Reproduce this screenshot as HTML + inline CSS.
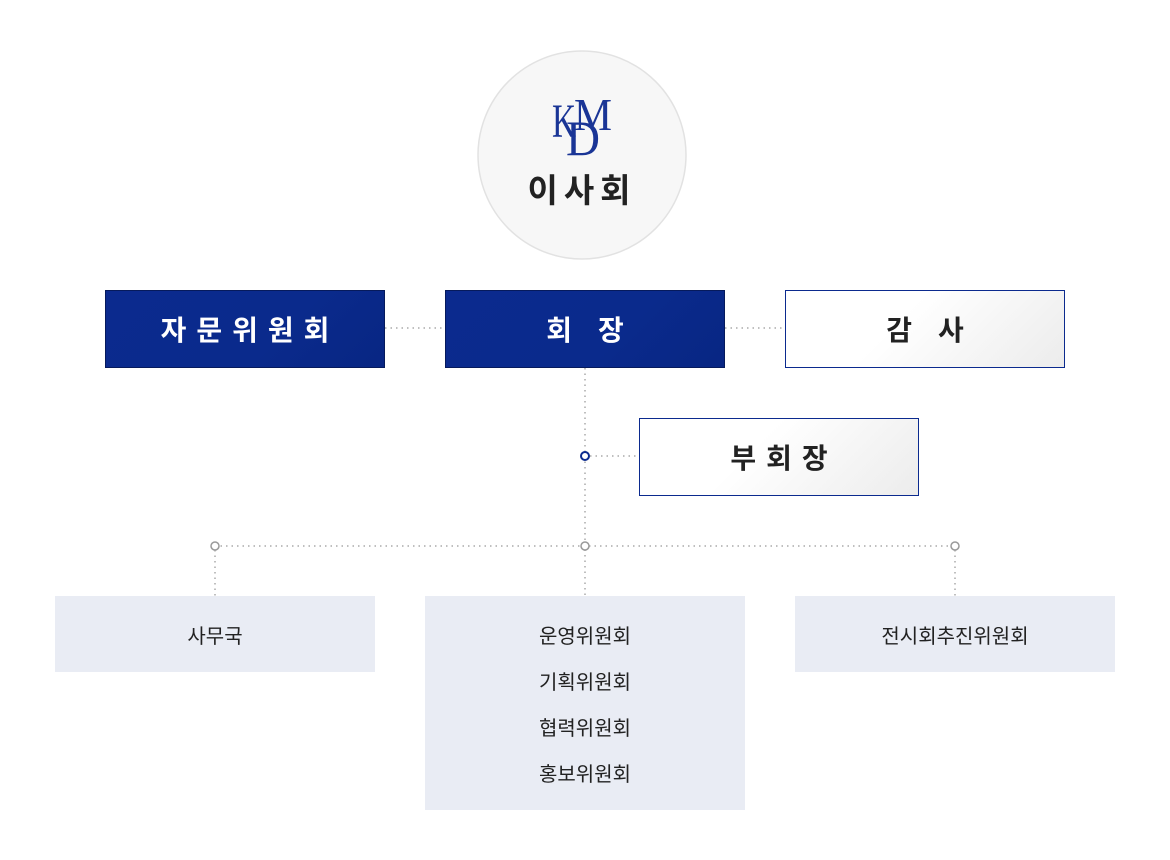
<!DOCTYPE html>
<html><head><meta charset="utf-8"><style>
body{margin:0;width:1170px;height:860px;background:#fff;position:relative;overflow:hidden;font-family:"Liberation Sans","Noto Sans CJK KR",sans-serif}
.b{position:absolute;box-sizing:border-box;display:flex;align-items:center;justify-content:center;font-weight:bold;font-size:28px}
.navy{background:linear-gradient(135deg,#0b2a8e 0%,#0a2a8c 60%,#082683 100%);color:#fff;border:1px solid #061a5c}
.white{background:linear-gradient(135deg,#fff 40%,#ececec 100%);color:#222;border:1px solid #0b2a8e}
.g{position:absolute;background:#e9ecf4;color:#222;font-size:20px;text-align:center;line-height:46px;box-sizing:border-box}
</style></head><body>
<svg width="1170" height="860" style="position:absolute;left:0;top:0">
<circle cx="582" cy="155" r="104" fill="#f7f7f7" stroke="#e2e2e2" stroke-width="1.5"/>
<g stroke="#aaa" stroke-width="1.5" stroke-dasharray="1.5 4" fill="none">
<line x1="385" y1="328" x2="445" y2="328"/>
<line x1="725" y1="328" x2="785" y2="328"/>
<line x1="585" y1="368" x2="585" y2="596"/>
<line x1="590" y1="456" x2="639" y2="456"/>
<line x1="215" y1="546" x2="955" y2="546"/>
<line x1="215" y1="550" x2="215" y2="596"/>
<line x1="955" y1="550" x2="955" y2="596"/>
</g>
<circle cx="585" cy="456" r="4" fill="#fff" stroke="#0b2a8e" stroke-width="2"/>
<circle cx="215" cy="546" r="4" fill="#fff" stroke="#999" stroke-width="1.5"/>
<circle cx="585" cy="546" r="4" fill="#fff" stroke="#999" stroke-width="1.5"/>
<circle cx="955" cy="546" r="4" fill="#fff" stroke="#999" stroke-width="1.5"/>
<g fill="#1a3596" font-family="Liberation Serif,serif">
<text x="552" y="137" font-size="48" textLength="24" lengthAdjust="spacingAndGlyphs">K</text>
<text x="574" y="130" font-size="46" textLength="38" lengthAdjust="spacingAndGlyphs">M</text>
<text x="566" y="155" font-size="50" textLength="34" lengthAdjust="spacingAndGlyphs">D</text>
</g>
<text x="582" y="202" text-anchor="middle" font-size="33" font-weight="bold" fill="#222" letter-spacing="6" font-family="Liberation Sans,Noto Sans CJK KR,sans-serif">이사회</text>
</svg>
<div class="b navy" style="left:105px;top:290px;width:280px;height:78px;letter-spacing:10px;padding-left:10px">자문위원회</div>
<div class="b navy" style="left:445px;top:290px;width:280px;height:78px;letter-spacing:26px;padding-left:26px">회장</div>
<div class="b white" style="left:785px;top:290px;width:280px;height:78px;letter-spacing:26px;padding-left:26px">감사</div>
<div class="b white" style="left:639px;top:418px;width:280px;height:78px;letter-spacing:10px;padding-left:10px">부회장</div>
<div class="g" style="left:55px;top:596px;width:320px;height:76px;line-height:76px;padding-top:3px">사무국</div>
<div class="g" style="left:425px;top:596px;width:320px;height:214px;padding-top:18px">운영위원회<br>기획위원회<br>협력위원회<br>홍보위원회</div>
<div class="g" style="left:795px;top:596px;width:320px;height:76px;line-height:76px;padding-top:3px">전시회추진위원회</div>
</body></html>
